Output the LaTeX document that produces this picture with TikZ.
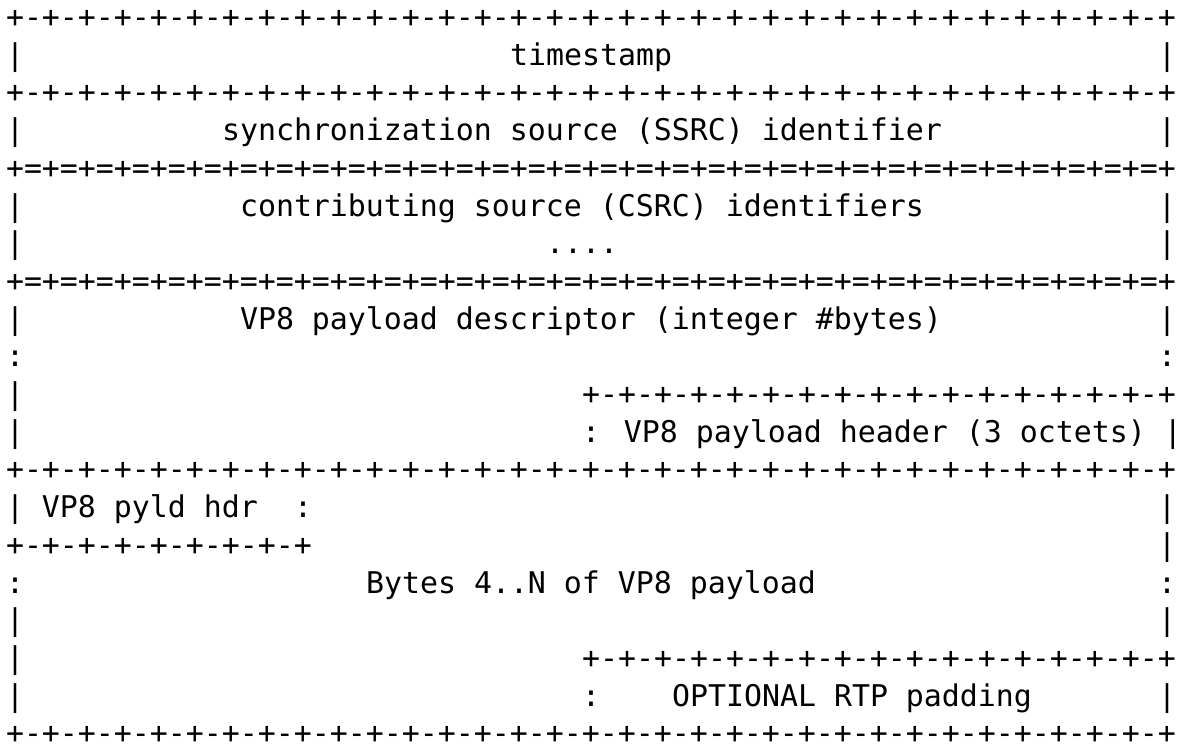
\documentclass[tikz,border=0pt]{standalone}
\usepackage{fontspec}
\newfontfamily\asciifont{DejaVu Sans Mono}
\newcommand{\pd}{+-+-+-+-}
\newcommand{\pe}{+=+=+=+=}

\begin{document}
\begin{tikzpicture}[
  x=9pt, y=-18.85pt,
  txt/.style={anchor=base west,inner sep=0pt,outer sep=0pt,yshift=-3.75pt,
    text depth=0pt,text height=8pt,
    font=\asciifont\fontsize{14.95pt}{18pt}\selectfont}
]
  \useasboundingbox (-3pt,10pt) rectangle (589.5pt,-363pt);
  % fixed header words
  \node[txt] (top) at (0,0) {\pd\pd\pd\pd\pd\pd\pd\pd+};
  \node[txt] (tsL) at (0,1) {|};
  \node[txt] (ts) at (28,1) {timestamp};
  \node[txt] (tsR) at (64,1) {|};
  \node[txt] (sepA) at (0,2) {\pd\pd\pd\pd\pd\pd\pd\pd+};
  \node[txt] (ssrcL) at (0,3) {|};
  \node[txt] (ssrc) at (12,3) {synchronization source (SSRC) identifier};
  \node[txt] (ssrcR) at (64,3) {|};
  \node[txt] (eqA) at (0,4) {\pe\pe\pe\pe\pe\pe\pe\pe+};
  \node[txt] (csrcL) at (0,5) {|};
  \node[txt] (csrc) at (13,5) {contributing source (CSRC) identifiers};
  \node[txt] (csrcR) at (64,5) {|};
  \node[txt] (dotsL) at (0,6) {|};
  \node[txt] (dots) at (30,6) {....};
  \node[txt] (dotsR) at (64,6) {|};
  \node[txt] (eqB) at (0,7) {\pe\pe\pe\pe\pe\pe\pe\pe+};
  % payload descriptor + header
  \node[txt] (descL) at (0,8) {|};
  \node[txt] (desc) at (13,8) {VP8 payload descriptor (integer \#bytes)};
  \node[txt] (descR) at (64,8) {|};
  \node[txt] (contL) at (0,9) {:};
  \node[txt] (contR) at (64,9) {:};
  \node[txt] (hdrL) at (0,10) {|};
  \node[txt] (hdrTop) at (32,10) {\pd\pd\pd\pd+};
  \node[txt] (hdrL2) at (0,11) {|};
  \node[txt] (hdr) at (32,11) {: VP8 payload header (3 octets) |};
  \node[txt] (sepB) at (0,12) {\pd\pd\pd\pd\pd\pd\pd\pd+};
  \node[txt] (pyld) at (0,13) {| VP8 pyld hdr};
  \node[txt] (pyldC) at (16,13) {:};
  \node[txt] (pyldR) at (64,13) {|};
  \node[txt] (pyldBot) at (0,14) {\pd\pd+};
  \node[txt] (pyldR2) at (64,14) {|};
  % payload bytes + padding
  \node[txt] (bytesL) at (0,15) {:};
  \node[txt] (bytes) at (20,15) {Bytes 4..N of VP8 payload};
  \node[txt] (bytesR) at (64,15) {:};
  \node[txt] (emptyL) at (0,16) {|};
  \node[txt] (emptyR) at (64,16) {|};
  \node[txt] (padL) at (0,17) {|};
  \node[txt] (padTop) at (32,17) {\pd\pd\pd\pd+};
  \node[txt] (padL2) at (0,18) {|};
  \node[txt] (padC) at (32,18) {:};
  \node[txt] (pad) at (37,18) {OPTIONAL RTP padding};
  \node[txt] (padR) at (64,18) {|};
  \node[txt] (bottom) at (0,19) {\pd\pd\pd\pd\pd\pd\pd\pd+};
\end{tikzpicture}
\end{document}
